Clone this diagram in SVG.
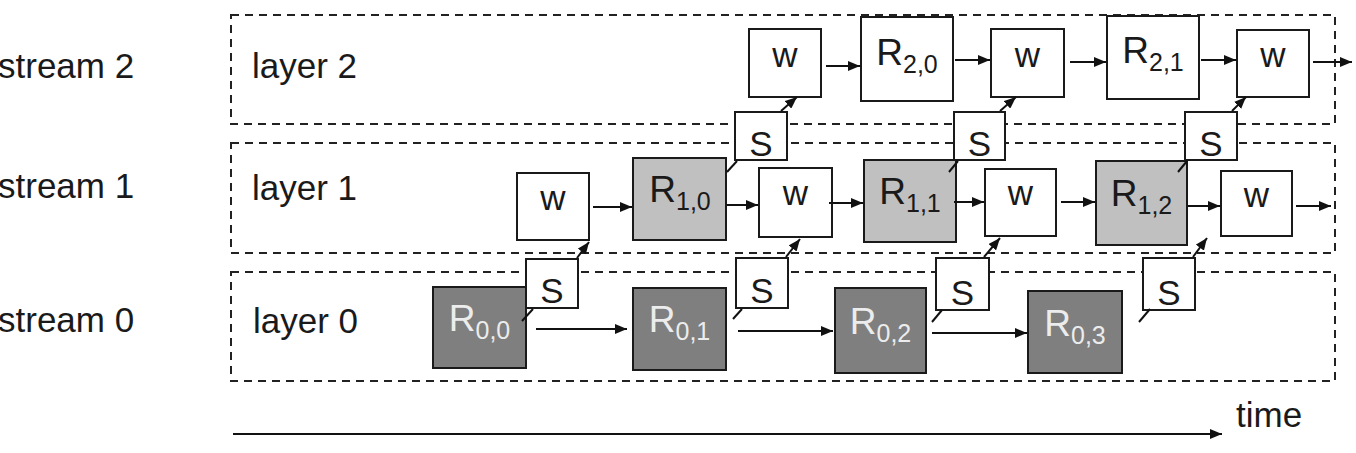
<svg xmlns="http://www.w3.org/2000/svg" width="1356" height="453" viewBox="0 0 1356 453">
  <defs>
    <marker id="arrow" viewBox="0 0 12 10" refX="12" refY="5" markerWidth="12" markerHeight="10" markerUnits="userSpaceOnUse" orient="auto">
      <path d="M0,0 L12,5 L0,10 z" fill="#111"/>
    </marker>
    <style>
      text { font-family: "Liberation Sans", Arial, sans-serif; fill: #1a1a1a; }
      .lbl { font-size: 35px; }
      .lane { fill: none; stroke: #222; stroke-width: 2; stroke-dasharray: 8 6; }
      .box { stroke: #1a1a1a; stroke-width: 2; }
      .w { fill: #fff; }
      .r2 { fill: #fff; }
      .r1 { fill: #c0c0c0; }
      .r0 { fill: #7f7f7f; }
      .s { fill: #fff; }
      .big { font-size: 37px; }
      .sub { font-size: 25px; }
      .light { fill: #ececec; }
      .mid { text-anchor: middle; }
      .edge { fill: none; stroke: #111; stroke-width: 2; }
      .arr { marker-end: url(#arrow); }
    </style>
  </defs>

  <!-- stream / layer lanes -->
  <g id="lanes">
    <rect class="lane" x="231" y="15" width="1104" height="109"/>
    <rect class="lane" x="231" y="143" width="1104" height="110"/>
    <rect class="lane" x="231" y="272" width="1104" height="109"/>
  </g>

  <g id="labels">
    <text class="lbl" x="-2" y="78">stream 2</text>
    <text class="lbl" x="-2" y="198">stream 1</text>
    <text class="lbl" x="-2" y="332">stream 0</text>
    <text class="lbl" x="252" y="78">layer 2</text>
    <text class="lbl" x="252" y="200">layer 1</text>
    <text class="lbl" x="253" y="333">layer 0</text>
  </g>

  <!-- layer 2 -->
  <g id="w2a"><rect class="box w" x="749" y="29" width="72" height="68"/><text class="lbl mid" x="785" y="67">w</text></g>
  <g id="R20"><rect class="box r2" x="861" y="17" width="92" height="84"/><text class="mid" x="907" y="65"><tspan class="big">R</tspan><tspan class="sub" dy="8">2,0</tspan></text></g>
  <g id="w2b"><rect class="box w" x="991" y="29" width="73" height="68"/><text class="lbl mid" x="1027.5" y="67">w</text></g>
  <g id="R21"><rect class="box r2" x="1107" y="16" width="92" height="83"/><text class="mid" x="1153" y="63"><tspan class="big">R</tspan><tspan class="sub" dy="8">2,1</tspan></text></g>
  <g id="w2c"><rect class="box w" x="1237" y="30" width="72" height="67"/><text class="lbl mid" x="1273" y="67">w</text></g>

  <!-- layer 1 -->
  <g id="w1a"><rect class="box w" x="517" y="173" width="72" height="67"/><text class="lbl mid" x="553" y="210">w</text></g>
  <g id="R10"><rect class="box r1" x="633" y="158" width="93" height="82"/><text class="mid" x="680" y="202"><tspan class="big">R</tspan><tspan class="sub" dy="8">1,0</tspan></text></g>
  <g id="w1b"><rect class="box w" x="759" y="168" width="73" height="69"/><text class="lbl mid" x="795.5" y="205">w</text></g>
  <g id="R11"><rect class="box r1" x="864" y="160" width="92" height="82"/><text class="mid" x="910" y="204"><tspan class="big">R</tspan><tspan class="sub" dy="8">1,1</tspan></text></g>
  <g id="w1c"><rect class="box w" x="985" y="169" width="71" height="67"/><text class="lbl mid" x="1020.5" y="205">w</text></g>
  <g id="R12"><rect class="box r1" x="1096" y="161" width="91" height="84"/><text class="mid" x="1141.5" y="206"><tspan class="big">R</tspan><tspan class="sub" dy="8">1,2</tspan></text></g>
  <g id="w1d"><rect class="box w" x="1221" y="171" width="71" height="65"/><text class="lbl mid" x="1256.5" y="207">w</text></g>

  <!-- layer 0 -->
  <g id="R00"><rect class="box r0" x="433" y="287" width="93" height="81"/><text class="mid light" x="479.5" y="331"><tspan class="big light">R</tspan><tspan class="sub light" dy="8">0,0</tspan></text></g>
  <g id="R01"><rect class="box r0" x="633" y="288" width="93" height="82"/><text class="mid light" x="679.5" y="332"><tspan class="big light">R</tspan><tspan class="sub light" dy="8">0,1</tspan></text></g>
  <g id="R02"><rect class="box r0" x="835" y="288" width="91" height="85"/><text class="mid light" x="880.5" y="334"><tspan class="big light">R</tspan><tspan class="sub light" dy="8">0,2</tspan></text></g>
  <g id="R03"><rect class="box r0" x="1028" y="291" width="94" height="82"/><text class="mid light" x="1075" y="336"><tspan class="big light">R</tspan><tspan class="sub light" dy="8">0,3</tspan></text></g>

  <!-- send callouts -->
  <g id="S10"><rect class="box s" x="735" y="112" width="52" height="48"/><text class="lbl mid" x="761" y="156">S</text></g>
  <g id="S11"><rect class="box s" x="954" y="112" width="51" height="48"/><text class="lbl mid" x="979.5" y="156">S</text></g>
  <g id="S12"><rect class="box s" x="1185" y="112" width="52" height="48"/><text class="lbl mid" x="1211" y="156">S</text></g>
  <g id="S00"><rect class="box s" x="526" y="259" width="52" height="49"/><text class="lbl mid" x="552" y="303">S</text></g>
  <g id="S01"><rect class="box s" x="736" y="258" width="52" height="50"/><text class="lbl mid" x="762" y="303">S</text></g>
  <g id="S02"><rect class="box s" x="936" y="258" width="53" height="52"/><text class="lbl mid" x="962.5" y="305">S</text></g>
  <g id="S03"><rect class="box s" x="1143" y="258" width="52" height="52"/><text class="lbl mid" x="1169" y="305">S</text></g>

  <!-- connectors -->
  <g id="connectors">
    <!-- layer 2 chain -->
    <line class="edge arr" x1="826" y1="66" x2="860" y2="66"/>
    <line class="edge arr" x1="955" y1="60" x2="990" y2="60"/>
    <line class="edge arr" x1="1070" y1="62" x2="1106" y2="62"/>
    <line class="edge arr" x1="1201" y1="60" x2="1236" y2="60"/>
    <line class="edge arr" x1="1313" y1="62" x2="1352" y2="62"/>
    <!-- layer 1 chain -->
    <line class="edge arr" x1="593" y1="207" x2="632" y2="207"/>
    <line class="edge arr" x1="727" y1="205" x2="758" y2="205"/>
    <line class="edge arr" x1="829" y1="203" x2="863" y2="203"/>
    <line class="edge arr" x1="954" y1="202" x2="984" y2="202"/>
    <line class="edge arr" x1="1061" y1="202" x2="1095" y2="202"/>
    <line class="edge arr" x1="1188" y1="206" x2="1220" y2="206"/>
    <line class="edge arr" x1="1296" y1="206" x2="1331" y2="206"/>
    <!-- layer 0 chain -->
    <line class="edge arr" x1="536" y1="329" x2="627" y2="329"/>
    <line class="edge arr" x1="738" y1="331" x2="833" y2="331"/>
    <line class="edge arr" x1="932" y1="333" x2="1027" y2="333"/>
    <!-- callout tails -->
    <line class="edge" x1="533" y1="309" x2="522" y2="321"/>
    <line class="edge" x1="742" y1="309" x2="733" y2="319"/>
    <line class="edge" x1="942" y1="310" x2="932" y2="322"/>
    <line class="edge" x1="1150" y1="309" x2="1139" y2="322"/>
    <line class="edge" x1="737" y1="161" x2="727" y2="172"/>
    <line class="edge" x1="958" y1="161" x2="949" y2="172"/>
    <line class="edge" x1="1187" y1="161" x2="1178" y2="172"/>
    <!-- sends up to the next layer -->
    <line class="edge arr" x1="577" y1="258" x2="589" y2="242"/>
    <line class="edge arr" x1="786" y1="257" x2="800" y2="239"/>
    <line class="edge arr" x1="984" y1="257" x2="1000" y2="238"/>
    <line class="edge arr" x1="1193" y1="257" x2="1207" y2="238"/>
    <line class="edge arr" x1="781" y1="111" x2="797" y2="97"/>
    <line class="edge arr" x1="1000" y1="111" x2="1016" y2="97"/>
    <line class="edge arr" x1="1232" y1="111" x2="1246" y2="97"/>
  </g>

  <!-- time axis -->
  <g id="time">
    <line class="edge arr" x1="233" y1="434" x2="1222" y2="434"/>
    <text class="lbl" x="1236" y="427">time</text>
  </g>
</svg>
